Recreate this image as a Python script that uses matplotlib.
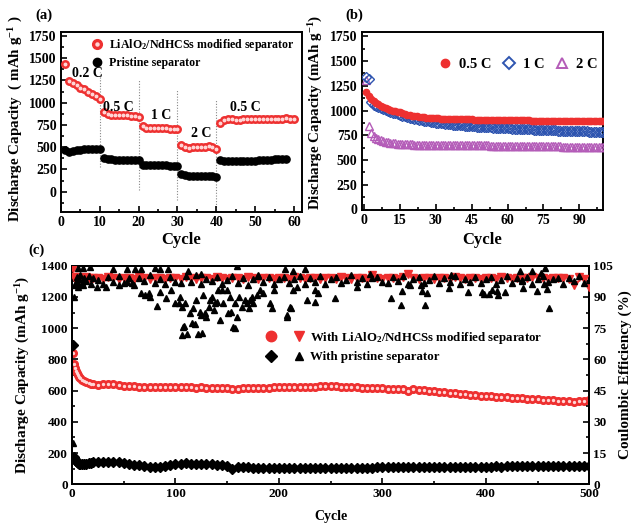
import matplotlib
matplotlib.use('Agg')
import matplotlib.pyplot as plt
import numpy as np
from matplotlib.ticker import MultipleLocator
from matplotlib.legend_handler import HandlerTuple
from matplotlib.lines import Line2D

plt.rcParams['font.family'] = ['Liberation Serif', 'DejaVu Serif']
plt.rcParams['font.weight'] = 'bold'
plt.rcParams['axes.labelweight'] = 'bold'
plt.rcParams['mathtext.fontset'] = 'custom'
plt.rcParams['mathtext.rm'] = 'Liberation Serif:bold'
plt.rcParams['mathtext.bf'] = 'Liberation Serif:bold'
plt.rcParams['mathtext.default'] = 'rm'

# ---------------- data: panel (a) rate capability ----------------
cyc_a_mod = list(range(1, 61))
cap_a_mod = [1430, 1245, 1215, 1195, 1170, 1150, 1125, 1100, 1075, 1040,
             895, 870, 865, 862, 860, 858, 856, 853, 850, 840,
             738, 720, 716, 714, 712, 711, 710, 709, 708, 705,
             520, 505, 492, 500, 505, 498, 503, 508, 505, 480,
             775, 805, 812, 815, 810, 808, 820, 815, 815, 816,
             815, 816, 815, 815, 814, 818, 820, 822, 820, 818]
cyc_a_pri = list(range(1, 59))
cap_a_pri = [470, 440, 455, 468, 472, 475, 478, 478, 478, 480,
             375, 365, 362, 360, 360, 358, 358, 357, 356, 355,
             300, 302, 300, 298, 296, 295, 294, 293, 292, 290,
             195, 182, 180, 178, 176, 175, 174, 172, 171, 170,
             355, 350, 350, 348, 348, 348, 348, 350, 350, 350,
             352, 352, 355, 360, 365, 370, 372, 370]
rate_names = ['0.2 C', '0.5 C', '1 C', '2 C', '0.5 C']
rate_bounds = [10, 20, 30, 40]

# ---------------- data: panel (b) cycling at different rates ----------------
cyc_b = list(range(1, 101))
cap_b_05 = [1190, 1150, 1120, 1100, 1080, 1065, 1050, 1040, 1030, 1020,
            1010, 1000, 995, 985, 980, 970, 965, 958, 952, 948,
            944, 940, 937, 934, 931, 929, 927, 925, 923, 921,
            920, 919, 918, 917, 916, 916, 915, 914, 914, 913,
            912, 912, 911, 910, 910, 909, 909, 908, 908, 907,
            907, 906, 906, 905, 905, 905, 904, 904, 903, 903,
            903, 902, 902, 901, 901, 901, 900, 900, 900, 899,
            899, 899, 898, 898, 898, 897, 897, 897, 897, 896,
            896, 896, 895, 895, 895, 895, 894, 894, 894, 893,
            893, 893, 892, 892, 892, 891, 891, 891, 890, 890]
cap_b_1 = [1340, 1320, 1085, 1060, 1045, 1035, 1025, 1015, 1005, 995,
           985, 978, 970, 962, 955, 948, 940, 934, 928, 922,
           916, 911, 906, 901, 897, 893, 889, 885, 881, 878,
           875, 872, 869, 866, 863, 861, 858, 856, 854, 852,
           850, 848, 846, 844, 842, 840, 838, 837, 835, 834,
           832, 831, 829, 828, 826, 825, 824, 822, 821, 820,
           819, 818, 816, 815, 814, 813, 812, 811, 810, 809,
           808, 807, 806, 805, 804, 803, 802, 801, 800, 799,
           798, 797, 796, 795, 795, 794, 793, 792, 791, 790,
           789, 788, 788, 787, 786, 785, 785, 784, 783, 782]
cap_b_2 = [1305, 840, 775, 745, 725, 710, 700, 692, 685, 680,
           676, 672, 669, 666, 664, 662, 660, 659, 658, 657,
           656, 656, 655, 655, 655, 654, 654, 654, 653, 653,
           653, 653, 652, 652, 652, 652, 651, 651, 651, 651,
           650, 650, 650, 649, 649, 649, 648, 648, 648, 647,
           647, 647, 646, 646, 646, 645, 645, 645, 644, 644,
           644, 643, 643, 643, 642, 642, 642, 641, 641, 641,
           640, 640, 640, 639, 639, 639, 638, 638, 638, 637,
           637, 637, 636, 636, 636, 635, 635, 635, 634, 634,
           634, 633, 633, 633, 633, 632, 632, 632, 632, 631]
rate_b_names = ['0.5 C', '1 C', '2 C']

# ---------------- data: panel (c) long cycling ----------------
cyc_c = [1, 2, 3, 4, 5, 6, 7, 8, 10, 12, 14, 16, 18, 20] + list(range(25, 501, 5))
cap_c_mod = [840, 770, 745, 725, 710, 700, 690, 680, 668, 660, 652, 646, 642, 640,
             638, 640, 640, 642, 636, 632, 630, 630, 626, 625, 624, 626, 624, 622, 623, 624,
             622, 620, 621, 619, 620, 618, 618, 617, 616, 615, 612, 613, 614, 614, 615, 616, 617, 618, 620, 620,
             622, 622, 623, 624, 624, 625, 626, 627, 628, 630, 628, 626, 624, 622, 620, 618, 617, 616, 615, 614,
             612, 611, 610, 608, 595, 610, 606, 604, 600, 598, 594, 590, 586, 583, 580, 576, 574, 571, 568, 566,
             563, 560, 558, 556, 554, 552, 550, 548, 546, 544, 542, 540, 538, 536, 535, 533, 530, 532, 536, 540]
cap_c_pri = [890, 175, 160, 150, 140, 135, 132, 130, 128, 130, 132, 135, 138, 142,
             145, 146, 146, 144, 140, 135, 130, 126, 122, 118, 112, 108, 110, 115, 122, 128,
             132, 134, 133, 132, 130, 128, 127, 126, 124, 120, 100, 108, 110, 108, 106, 105, 104, 104, 103, 103,
             104, 105, 104, 103, 104, 105, 106, 105, 104, 105, 106, 106, 105, 106, 107, 107, 106, 107, 108, 108,
             108, 109, 108, 109, 110, 109, 110, 110, 111, 110, 111, 111, 112, 111, 112, 112, 113, 112, 113, 113,
             113, 114, 113, 114, 114, 115, 114, 115, 115, 116, 115, 116, 115, 116, 116, 115, 116, 116, 115, 116]
ce_c_mod = [104.0, 99.5, 99.0, 98.6, 99.2, 99.5, 98.8, 99.3, 99.0, 98.7, 99.4, 99.0, 98.8, 99.3,
            99.0, 98.6, 99.4, 99.1, 98.7, 99.3, 99.0, 98.8, 99.5, 99.1, 98.7, 99.2, 99.0, 98.6, 99.3, 99.1,
            98.8, 99.4, 99.0, 98.7, 99.2, 99.1, 98.8, 99.5, 99.0, 98.7, 99.3, 99.0, 98.8, 99.4, 99.1, 98.7, 99.2, 99.0, 98.8, 99.3,
            99.0, 98.7, 99.4, 99.1, 98.8, 99.3, 99.0, 98.6, 99.2, 99.1, 98.8, 99.4, 99.0, 98.7, 99.3, 99.0, 98.8, 100.6, 99.1, 98.7,
            99.2, 99.0, 98.8, 99.4, 100.8, 99.0, 98.7, 99.3, 99.1, 98.8, 99.2, 99.0, 98.7, 99.4, 99.1, 98.8, 99.2, 99.0, 98.7, 99.3,
            99.0, 98.8, 99.4, 99.1, 98.7, 99.2, 99.0, 99.1, 99.8, 99.3, 99.0, 98.8, 99.2, 99.0, 99.0, 98.8, 95.7, 99.8, 98.8, 94.9]
ce_c_pri = [20.0, 90.0, 95.5, 97.0, 99.5, 96.0, 98.7, 100.5, 96.8, 99.2, 97.5, 100.2, 96.4, 98.9,
            98.0, 96.3, 99.6, 97.1, 100.2, 96.8, 98.9, 95.9, 99.3, 97.5, 100.4, 96.6, 98.7, 96.1, 99.8, 97.4,
            96.5, 99.9, 97.2, 100.3, 96.0, 98.8, 97.6, 99.5, 96.4, 98.2, 100.1, 96.9, 99.0, 95.8, 98.5, 100.0, 97.0, 99.4, 96.2, 98.6,
            99.7, 96.7, 98.4, 100.2, 96.3, 99.1, 97.3, 100.0, 96.1, 98.7, 99.6, 96.8, 98.1, 100.3, 97.0, 99.2, 96.4, 98.9, 99.8, 97.1,
            96.6, 99.4, 97.8, 100.1, 96.2, 98.6, 99.7, 96.9, 98.3, 100.0, 96.5, 99.0, 97.4, 99.9, 96.0, 98.8, 97.2, 99.5, 96.7, 98.4,
            99.8, 96.4, 98.0, 100.2, 96.8, 99.3, 97.5, 99.6, 96.1, 98.7, 100.1, 97.0, 98.5, 99.2, 96.3, 98.9, 97.7, 99.9, 96.6, 98.2]
# scattered coulombic-efficiency points of the pristine cell
ce_pri_x = [6, 11, 17, 40, 53, 61, 67, 80, 85, 93, 112, 125, 159, 180, 206, 214, 225,
            6, 11, 24, 33, 45, 53, 58, 67, 71, 74, 75, 82, 85, 91, 96, 100, 103, 104, 106, 108, 109, 111,
            114, 116, 117, 119, 120, 122, 124, 125, 127, 129, 130, 132, 133, 135, 137, 138, 140, 141, 143,
            145, 146, 150, 151, 153, 154, 156, 158, 159, 161, 164, 167, 169, 171, 172, 174, 175, 179, 182,
            185, 191, 193, 195, 208, 211, 214, 217, 235, 254, 275, 106, 126, 158, 107, 208, 212, 227, 235,
            238, 288, 308, 318, 319, 327, 337, 338, 341, 343, 364, 366, 383, 396, 398, 403, 406, 411, 412,
            419, 433, 435, 436, 445, 449, 453, 456, 457, 459, 461]
ce_pri_y = [103.9, 103.9, 104.4, 103.4, 103.4, 103.4, 103.4, 103.9, 103.4, 103.4, 102.3, 101.1, 104.7, 100.6, 103.4, 102.3, 103.4,
            95.0, 95.8, 95.0, 95.0, 95.8, 97.4, 96.6, 91.8, 91.0, 92.1, 90.2, 85.6, 92.6, 89.3, 93.4, 86.9, 87.2, 90.2, 85.3, 75.9, 86.9, 72.4,
            82.1, 77.6, 84.5, 76.9, 88.5, 72.4, 82.9, 81.3, 91.0, 82.1, 80.5, 85.3, 88.5, 90.2, 83.7, 86.9, 87.7, 93.4, 78.8,
            93.4, 86.9, 93.4, 82.1, 90.2, 82.9, 75.6, 86.9, 80.5, 90.2, 85.3, 88.5, 86.9, 84.5, 88.5, 90.2, 86.9, 91.0, 93.4,
            92.1, 86.9, 84.5, 93.4, 81.3, 85.3, 93.4, 95.0, 87.7, 89.3, 95.0, 71.9, 72.9, 75.3, 75.6, 80.4, 84.5, 88.5, 93.4,
            91.8, 100.9, 89.7, 86.1, 93.0, 95.5, 95.5, 93.0, 86.1, 91.8, 94.4, 100.6, 92.4, 92.4, 91.6, 91.6, 93.2, 92.7, 91.1,
            92.4, 102.3, 98.0, 94.4, 102.6, 92.7, 101.5, 96.1, 104.1, 93.7, 84.5]

# ---------------- style ----------------
RED = '#ee3030'
HL = '#ffd6d6'
BLUE = '#2f55b0'
PURPLE = '#b45cb8'
W, H = 633, 523

fig = plt.figure(figsize=(W / 100, H / 100), dpi=100)


def ax_at(l, t, r, b):
    return fig.add_axes([l / W, 1 - b / H, (r - l) / W, (b - t) / H])


def style(ax, xmaj, xmin, ymaj, ymin, lsize=10):
    for s in ax.spines.values():
        s.set_linewidth(1.4)
    ax.xaxis.set_major_locator(MultipleLocator(xmaj))
    ax.xaxis.set_minor_locator(MultipleLocator(xmin))
    ax.yaxis.set_major_locator(MultipleLocator(ymaj))
    ax.yaxis.set_minor_locator(MultipleLocator(ymin))
    ax.tick_params(which='both', direction='in', top=False, right=False,
                   labelsize=lsize, width=1.2, pad=3)
    ax.tick_params(which='major', length=4)
    ax.tick_params(which='minor', length=2.2)


# ---------- (a) ----------
axa = ax_at(61, 32.3, 301.7, 211.7)
style(axa, 10, 5, 250, 125)
axa.set_xlim(0, 62)
axa.set_ylim(-225, 1790)
axa.set_yticks([0, 250, 500, 750, 1000, 1250, 1500, 1750])
for xb, (y0, y1) in zip(rate_bounds, [(280, 1345), (15, 1250), (-95, 1140), (-205, 1040)]):
    axa.vlines(xb, y0, y1, colors='#888888', linestyles=(0, (1, 1.5)), linewidth=0.8, zorder=1)
axa.plot(cyc_a_pri, cap_a_pri, 'o', color='black', ms=5.2, zorder=3)
axa.plot(cyc_a_mod, cap_a_mod, 'o', color=RED, ms=5.4, zorder=3)
axa.plot(cyc_a_mod, cap_a_mod, 'o', color=HL, ms=1.8, zorder=4)
for name, xp, yp in zip(rate_names, [6.7, 14.8, 25.8, 36.0, 47.4], [1330, 940, 860, 655, 950]):
    axa.text(xp, yp, name, fontsize=10, ha='center', va='center')
h_mod_a = (Line2D([], [], ls='none', marker='o', color=RED, ms=7),
           Line2D([], [], ls='none', marker='o', color=HL, ms=2.2))
h_pri_a = Line2D([], [], ls='none', marker='o', color='black', ms=6)
axa.legend([h_mod_a, h_pri_a],
           ['LiAlO$_2$/NdHCSs modified separator', 'Pristine separator'],
           handler_map={tuple: HandlerTuple(ndivide=1)},
           loc='upper left', bbox_to_anchor=(0.092, 1.015), frameon=False,
           fontsize=8.6, handlelength=1.2, handletextpad=0.4, labelspacing=0.35,
           borderaxespad=0.2)
axa.set_xlabel('Cycle', fontsize=12)
axa.set_ylabel('Discharge Capacity  ( mAh g$^{-1}$ )', fontsize=10.8)
axa.xaxis.set_label_coords(0.5, -0.115)
axa.yaxis.set_label_coords(-0.148, 0.52)

# ---------- (b) ----------
axb = ax_at(361.7, 32.3, 603.3, 209.5)
style(axb, 15, 7.5, 250, 125)
axb.set_xlim(-1, 100)
axb.set_ylim(0, 1790)
axb.set_yticks([0, 250, 500, 750, 1000, 1250, 1500, 1750])
axb.plot(cyc_b, cap_b_2, '^', mfc='none', mec=PURPLE, mew=1.0, ms=5.5, label=rate_b_names[2], zorder=3)
axb.plot(cyc_b, cap_b_1, 'D', mfc='none', mec=BLUE, mew=1.0, ms=4.8, label=rate_b_names[1], zorder=4)
axb.plot(cyc_b, cap_b_05, 'o', color=RED, ms=4.5, label=rate_b_names[0], zorder=5)
hb = [Line2D([], [], ls='none', marker='o', color=RED, ms=6),
      Line2D([], [], ls='none', marker='D', mfc='none', mec=BLUE, mew=1.4, ms=6),
      Line2D([], [], ls='none', marker='^', mfc='none', mec=PURPLE, mew=1.4, ms=7)]
axb.legend(hb, rate_b_names, ncol=3, loc='upper left', bbox_to_anchor=(0.285, 0.905),
           frameon=False, fontsize=10.5, handlelength=0.8, handletextpad=0.55,
           columnspacing=0.8, borderaxespad=0.2)
axb.set_xlabel('Cycle', fontsize=12)
axb.set_ylabel('Discharge Capacity (mAh g$^{-1}$)', fontsize=10.8)
axb.xaxis.set_label_coords(0.5, -0.128)
axb.yaxis.set_label_coords(-0.15, 0.545)

# ---------- (c) ----------
axc = ax_at(72, 265.7, 589.3, 484.3)
style(axc, 100, 50, 200, 100, lsize=9.5)
axc.set_xlim(0, 500)
axc.set_ylim(0, 1400)
axc.plot(cyc_c, cap_c_mod, 'o', color=RED, ms=5.5, zorder=3)
axc.plot(cyc_c, cap_c_mod, 'o', color=HL, ms=1.4, zorder=4)
axc.plot(cyc_c, cap_c_pri, 'D', color='black', ms=5, zorder=3)
axr = axc.twinx()
axr.set_ylim(0, 105)
axr.yaxis.set_major_locator(MultipleLocator(15))
axr.yaxis.set_minor_locator(MultipleLocator(7.5))
axr.tick_params(which='both', direction='in', right=True, left=False, labelsize=9.5, width=1.2, pad=3)
axr.tick_params(which='major', length=4)
axr.tick_params(which='minor', length=2.2)
for s in axr.spines.values():
    s.set_linewidth(1.4)
axr.plot(cyc_c, ce_c_mod, 'v', color=RED, ms=5.5, zorder=3)
axr.plot(cyc_c, ce_c_pri, '^', color='black', ms=4.2, zorder=4)
axr.plot(ce_pri_x, ce_pri_y, '^', color='black', ms=4.2, zorder=4)
h_mod_c = (Line2D([], [], ls='none', marker='o', color=RED, ms=7.5),
           Line2D([], [], ls='none', marker='v', color=RED, ms=6.5))
h_pri_c = (Line2D([], [], ls='none', marker='D', color='black', ms=6),
           Line2D([], [], ls='none', marker='^', color='black', ms=5.5))
axr.legend([h_mod_c, h_pri_c],
           ['With LiAlO$_2$/NdHCSs modified separator', 'With pristine separator'],
           handler_map={tuple: HandlerTuple(ndivide=None, pad=1.3)},
           loc='upper left', bbox_to_anchor=(0.36, 0.742), frameon=False,
           fontsize=9.3, handlelength=3.0, handletextpad=0.4, labelspacing=0.4,
           borderaxespad=0.2)
axc.set_xlabel('Cycle', fontsize=10)
axc.set_ylabel('Discharge Capacity (mAh g$^{-1}$)', fontsize=11)
axr.set_ylabel('Coulombic Efficiency (%)', fontsize=11)
axc.xaxis.set_label_coords(0.5, -0.118)
axc.yaxis.set_label_coords(-0.078, 0.5)
axr.yaxis.set_label_coords(1.057, 0.5)

fig.text(35 / W, 1 - 15 / H, '(a)', fontsize=10.5, ha='left', va='center')
fig.text(345 / W, 1 - 15 / H, '(b)', fontsize=10.5, ha='left', va='center')
fig.text(28 / W, 1 - 250 / H, '(c)', fontsize=10.5, ha='left', va='center')

fig.savefig('out.png', dpi=100)
